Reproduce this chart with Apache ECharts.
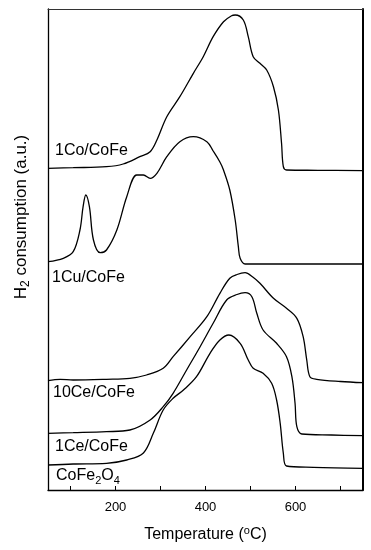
<!DOCTYPE html>
<html>
<head>
<meta charset="utf-8">
<script src="https://cdn.jsdelivr.net/npm/echarts@6/dist/echarts.min.js"></script>
<style>html,body{margin:0;padding:0;background:#fff}#c{width:371px;height:550px}</style>
</head>
<body>
<div id="c"></div>
<script>
// Temperature (°C) and H2 consumption (a.u., stacked offsets)
const co1T = [50,106,180,217,254,277,292,314,343,373,395,417,440,458,466,484,495,506,521,536,551,562,569,573,580,650,750];
const co1V = [321.7,322.3,323.3,326,333.3,338.3,350,373.3,393.3,416.7,433.3,453.3,468.3,474.3,475,470,453.3,433.3,426.7,420,403.3,380,346.7,323.3,320,319.7,319.3];

const cu1T = [50,84,106,121,128,134,142,151,166,180,203,225,247,262,277,292,314,343,373,403,417,432,440,454,466,473,477,488,560,750];
const cu1V = [228.3,231.7,238.3,260,283.3,295,283.3,250,237.3,240,260,293.3,315,315,311.7,316.7,333.3,348.3,353.3,348.3,339,328,320,300,270,243.3,231.7,226,226,226];

const ce10T = [50,77,106,180,232,269,306,328,366,403,432,454,470,488,505,521,551,580,603,617,625,632,647,700,750];
const ce10V = [109.3,110.7,110,110.7,111.7,115,121.7,133.3,153.3,173.3,196.7,211.7,215.5,217.3,213,206.7,191.7,181.7,171.7,153.3,130,113.3,110.7,108.5,107.3];

const ce1T = [50,106,180,232,277,306,328,358,388,417,447,470,488,503,514,528,558,580,592,599,603,614,680,750];
const ce1V = [56.7,57.3,58.3,60,70,83.3,96.7,120,143.3,166.7,190,195.5,197.3,193.3,176.7,160,146.7,133.3,113.3,86.7,63.3,56,55,54.3];

const feT = [50,106,180,225,262,284,306,328,351,380,410,432,452,477,495,506,528,547,558,566,573,580,640,750];
const feV = [25,26,26.7,30,37,56.7,80,91.7,100,113.3,136.7,150,155,146.7,130,121.7,116.7,106.7,90,66.7,36.7,24,22.7,21.7];

const seriesNames = ['1Co/CoFe','1Cu/CoFe','10Ce/CoFe','1Ce/CoFe','CoFe2O4'];
const xTickValues = [100,200,300,400,500,600,700];
const xLabelValues = [200,400,600];

const FF = 'Liberation Sans, Arial, sans-serif';
function pairs(t, v){ return t.map((x,i)=>[x, v[i]]); }
const all = [[co1T,co1V],[cu1T,cu1V],[ce10T,ce10V],[ce1T,ce1V],[feT,feV]];

const chart = echarts.init(document.getElementById('c'));
const labelPos = [[55,151],[52,278],[53,393],[55,447],[56,476]];
const labelTexts = ['{a|1Co/CoFe}','{a|1Cu/CoFe}','{a|10Ce/CoFe}','{a|1Ce/CoFe}','{a|CoFe}{s|2}{a|O}{s|4}'];
const rich = {
  a:{fontSize:16,fontFamily:FF,fill:'#000',color:'#000',lineHeight:20,verticalAlign:'middle'},
  s:{fontSize:11,fontFamily:FF,fill:'#000',color:'#000',lineHeight:11,verticalAlign:'bottom'}
};
const graphics = labelPos.map((p,i)=>({
  type:'text', x:p[0], y:p[1], z:10,
  style:{text:labelTexts[i], rich:rich, fill:'#000', fontFamily:FF, fontSize:16, verticalAlign:'middle', align:'left'}
}));
graphics.push({
  type:'text', x:21, y:217, rotation:Math.PI/2, z:10,
  style:{text:'{b|H}{t|2}{b| consumption (a.u.)}', align:'center', verticalAlign:'middle', fill:'#000', fontFamily:FF, fontSize:17,
    rich:{b:{fontSize:17,fontFamily:FF,fill:'#000',lineHeight:22,verticalAlign:'middle'},
          t:{fontSize:12,fontFamily:FF,fill:'#000',lineHeight:12,verticalAlign:'bottom'}}}
});

chart.setOption({
  animation:false,
  backgroundColor:'#fff',
  grid:{left:48,right:8,top:9,bottom:60},
  graphic:graphics,
  xAxis:[{
    type:'value', min:50, max:750, position:'bottom',
    name:'{n|Temperature (}{sp|o}{n|C)}', nameLocation:'middle', nameGap:35,
    nameTextStyle:{rich:{n:{fontSize:16,fontFamily:FF,color:'#000',lineHeight:20,verticalAlign:'middle'},
                         sp:{fontSize:11,fontFamily:FF,color:'#000',lineHeight:11,verticalAlign:'top'}}},
    axisLine:{show:true,onZero:false,lineStyle:{color:'#000',width:1.3}},
    axisTick:{show:true,inside:true,length:4,customValues:xTickValues,lineStyle:{color:'#000',width:1}},
    axisLabel:{show:true,customValues:xLabelValues,fontSize:13,fontFamily:FF,color:'#000',margin:11},
    splitLine:{show:false}
  },{
    type:'value', min:50, max:750, position:'top',
    axisLine:{show:true,onZero:false,lineStyle:{color:'#333',width:1}},
    axisTick:{show:false}, axisLabel:{show:false}, splitLine:{show:false}
  }],
  yAxis:[{
    type:'value', min:0, max:481, position:'left',
    axisLine:{show:true,onZero:false,lineStyle:{color:'#000',width:1.3}},
    axisTick:{show:false}, axisLabel:{show:false}, splitLine:{show:false}
  },{
    type:'value', min:0, max:481, position:'right',
    axisLine:{show:true,onZero:false,lineStyle:{color:'#000',width:2}},
    axisTick:{show:false}, axisLabel:{show:false}, splitLine:{show:false}
  }],
  series: all.map((d,i)=>({
    name:seriesNames[i], type:'line', xAxisIndex:0, yAxisIndex:0,
    data:pairs(d[0],d[1]), smooth:0.35, symbol:'none',
    lineStyle:{color:'#000',width:1.3}
  }))
});
</script>
</body>
</html>
